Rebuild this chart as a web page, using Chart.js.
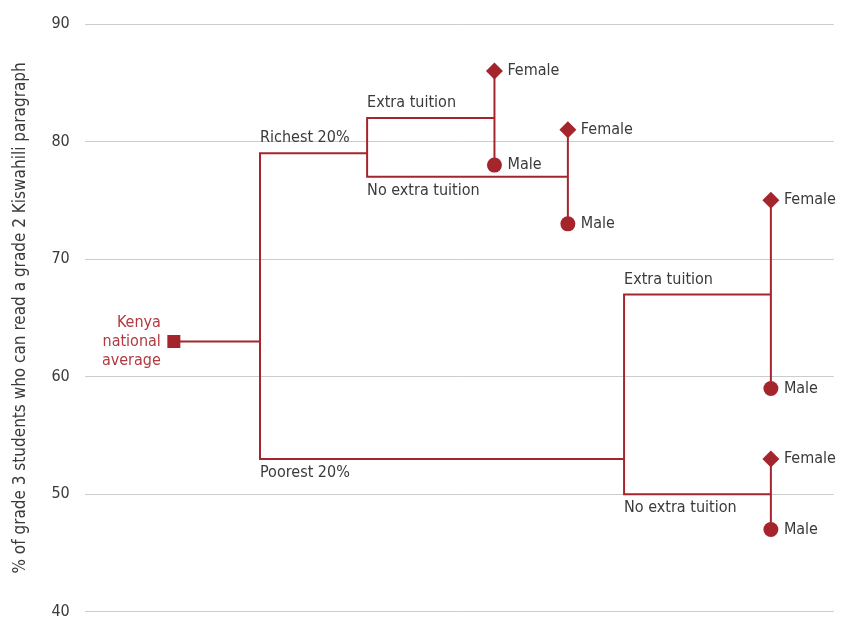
<!DOCTYPE html>
<html>
<head>
<meta charset="utf-8">
<script src="https://cdn.jsdelivr.net/npm/chart.js@4"></script>
<style>
  html, body { margin: 0; padding: 0; background: #fff; overflow: hidden; }
  canvas { display: block; }
</style>
</head>
<body>
<canvas id="chart" width="843" height="621"></canvas>
<script>
// tree stages along the (hidden) x axis
const stageX = [11.9, 23.4, 37.7, 54.7, 64.5, 72, 91.6];

const nationalLabel = ['Kenya', 'national', 'average'];
const nationalAverage = 63;

const groups = ['Richest 20%', 'Poorest 20%'];
const groupValues = [79, 53];

const tuition = ['Extra tuition', 'No extra tuition'];
const richTuition = [82, 77];
const poorTuition = [67, 50];

const genders = ['Female', 'Male'];
const richExtra = [86, 78];
const richNoExtra = [81, 73];
const poorExtra = [75, 59];
const poorNoExtra = [53, 47];

const yTicks = [40, 50, 60, 70, 80, 90];

const RED = '#a4262c';
const TEXT = '#3a3a3a';
const FONT = '"Liberation Sans Narrow", "Arial Narrow", "DejaVu Sans Condensed", sans-serif';
const FSIZE = 16;

function seg(points) {
    return {
        data: points.map(p => ({ x: p[0], y: p[1] })),
        borderColor: RED,
        borderWidth: 2,
        pointRadius: 0,
        fill: false,
        tension: 0
    };
}

function leaf(x, vals) {
    const d = seg([[x, vals[0]], [x, vals[1]]]);
    d.pointRadius = [8.5, 7.5];
    d.pointStyle = ['rectRot', 'circle'];
    d.pointBackgroundColor = RED;
    d.pointBorderColor = RED;
    d.pointBorderWidth = 0;
    return d;
}

const natSet = seg([[stageX[0], nationalAverage], [stageX[1], nationalAverage]]);
natSet.pointRadius = [9.2, 0];
natSet.pointStyle = ['rect', false];
natSet.pointBackgroundColor = RED;
natSet.pointBorderWidth = 0;

const datasets = [
    natSet,
    seg([[stageX[2], groupValues[0]], [stageX[1], groupValues[0]], [stageX[1], groupValues[1]], [stageX[5], groupValues[1]]]),
    seg([[stageX[3], richTuition[0]], [stageX[2], richTuition[0]], [stageX[2], richTuition[1]], [stageX[4], richTuition[1]]]),
    seg([[stageX[6], poorTuition[0]], [stageX[5], poorTuition[0]], [stageX[5], poorTuition[1]], [stageX[6], poorTuition[1]]]),
    leaf(stageX[3], richExtra),
    leaf(stageX[4], richNoExtra),
    leaf(stageX[6], poorExtra),
    leaf(stageX[6], poorNoExtra)
];

// text labels placed via the chart scales
const labelPlugin = {
    id: 'treeLabels',
    afterDatasetsDraw(chart) {
        const ctx = chart.ctx;
        const xs = chart.scales.x;
        const ys = chart.scales.y;
        const px = v => xs.getPixelForValue(v);
        const py = v => ys.getPixelForValue(v);
        ctx.save();
        ctx.font = FSIZE + 'px ' + FONT;
        ctx.textAlign = 'left';

        function above(text, x, y) {
            ctx.textBaseline = 'bottom';
            ctx.fillText(text, px(x), py(y) - 7);
        }
        function below(text, x, y) {
            ctx.textBaseline = 'top';
            ctx.fillText(text, px(x), py(y) + 6);
        }
        ctx.fillStyle = TEXT;
        above(groups[0], stageX[1], groupValues[0]);
        below(groups[1], stageX[1], groupValues[1]);
        above(tuition[0], stageX[2], richTuition[0]);
        below(tuition[1], stageX[2], richTuition[1]);
        above(tuition[0], stageX[5], poorTuition[0]);
        below(tuition[1], stageX[5], poorTuition[1]);

        ctx.textBaseline = 'middle';
        [[stageX[3], richExtra], [stageX[4], richNoExtra], [stageX[6], poorExtra], [stageX[6], poorNoExtra]]
            .forEach(([x, vals]) => {
                vals.forEach((v, i) => ctx.fillText(genders[i], px(x) + 13, py(v)));
            });

        ctx.fillStyle = '#b03a40';
        ctx.textAlign = 'right';
        const cy = py(nationalAverage);
        nationalLabel.forEach((t, i) => {
            ctx.fillText(t, px(stageX[0]) - 13, cy + (i - 1) * 19);
        });
        ctx.restore();
    }
};

const ctx = document.getElementById('chart').getContext('2d');
new Chart(ctx, {
    type: 'line',
    data: { datasets: datasets },
    options: {
        responsive: false,
        animation: false,
        events: [],
        layout: { padding: { top: 24, bottom: 4, left: 10, right: 0 } },
        plugins: { legend: { display: false }, tooltip: { enabled: false } },
        scales: {
            x: { type: 'linear', min: 0, max: 100, display: false },
            y: {
                min: yTicks[0],
                max: yTicks[yTicks.length - 1],
                afterBuildTicks: axis => { axis.ticks = yTicks.map(v => ({ value: v })); },
                afterFit: axis => { axis.paddingTop = 0; axis.paddingBottom = 0; },
                border: { display: false },
                grid: { color: '#cccccc', lineWidth: 1, drawTicks: false },
                ticks: { color: TEXT, padding: 15, font: { family: FONT, size: FSIZE } },
                title: {
                    display: true,
                    text: '% of grade 3 students who can read a grade 2 Kiswahili paragraph',
                    color: TEXT,
                    font: { family: FONT, size: 17 },
                    padding: { top: 0, bottom: 6 }
                }
            }
        }
    },
    plugins: [labelPlugin]
});
</script>
</body>
</html>
